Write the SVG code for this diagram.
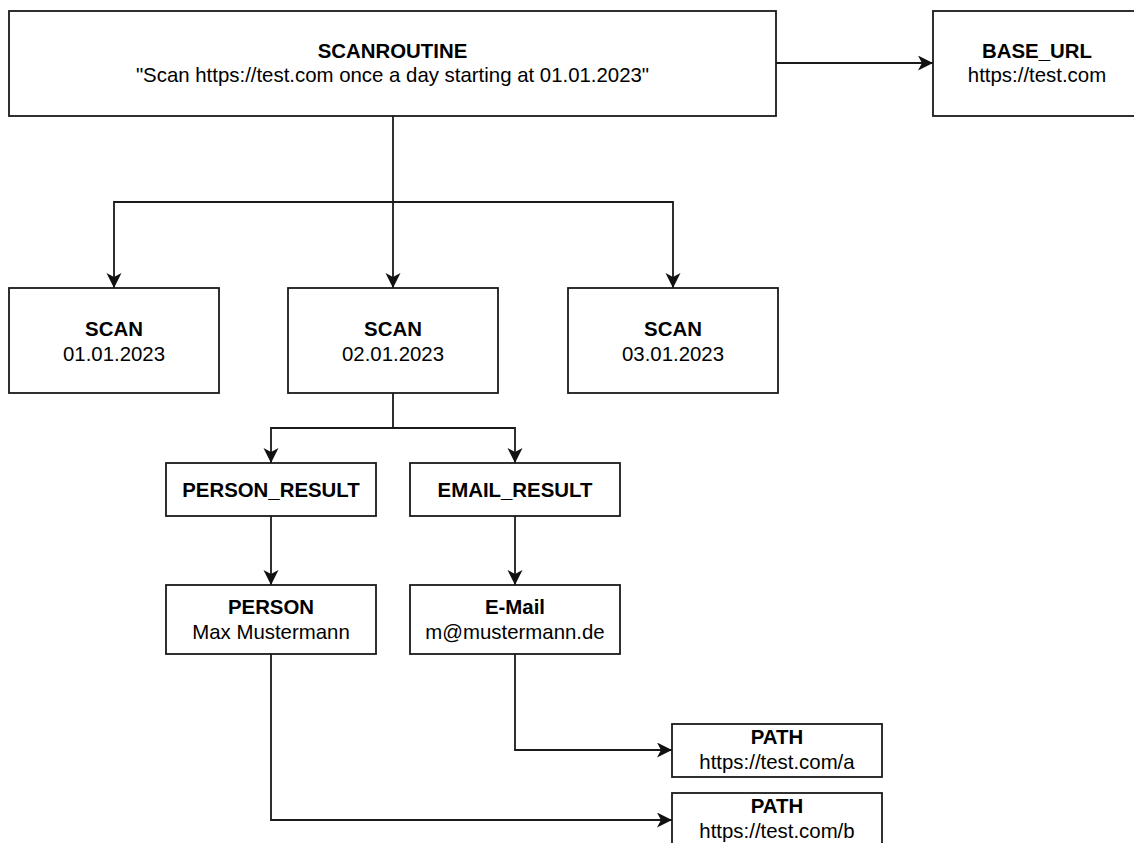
<svg xmlns="http://www.w3.org/2000/svg" width="1134" height="843" viewBox="0 0 1134 843">
<style>
.box{fill:#ffffff;stroke:#1a1a1a;stroke-width:1.8}
.t{font-family:"Liberation Sans",Arial,Helvetica,sans-serif;font-size:20.4px;fill:#000;text-anchor:middle}
.b{font-weight:bold}
.edge{fill:none;stroke:#1a1a1a;stroke-width:1.8}
</style>
<defs>
<marker id="arr" markerUnits="userSpaceOnUse" markerWidth="18" markerHeight="18" refX="15" refY="7.5" orient="auto">
<path d="M0,0 L15,7.5 L0,15 L4,7.5 Z" fill="#111111"/>
</marker>
</defs>
<rect width="1134" height="843" fill="#ffffff"/>
<g id="connectors">
<path class="edge" d="M776,63 L933,63" marker-end="url(#arr)"/>
<path class="edge" d="M393,116 L393,288" marker-end="url(#arr)"/>
<path class="edge" d="M393,202 L114,202 L114,288" marker-end="url(#arr)"/>
<path class="edge" d="M393,202 L673,202 L673,288" marker-end="url(#arr)"/>
<path class="edge" d="M393,393 L393,428 L271,428 L271,463" marker-end="url(#arr)"/>
<path class="edge" d="M393,428 L515,428 L515,463" marker-end="url(#arr)"/>
<path class="edge" d="M271,516 L271,585" marker-end="url(#arr)"/>
<path class="edge" d="M515,516 L515,585" marker-end="url(#arr)"/>
<path class="edge" d="M515,654 L515,750 L672,750" marker-end="url(#arr)"/>
<path class="edge" d="M271,654 L271,820 L672,820" marker-end="url(#arr)"/>
</g>
<g id="scanroutine">
<rect class="box" x="9" y="11" width="767" height="105"/>
<text class="t b" x="392.5" y="58">SCANROUTINE</text>
<text class="t" x="392.5" y="82">"Scan https://test.com once a day starting at 01.01.2023"</text>
</g>
<g id="base_url">
<rect class="box" x="933" y="11" width="208" height="105"/>
<text class="t b" x="1037" y="58">BASE_URL</text>
<text class="t" x="1037" y="82">https://test.com</text>
</g>
<g id="scan1">
<rect class="box" x="9" y="288" width="210" height="105"/>
<text class="t b" x="114" y="336">SCAN</text>
<text class="t" x="114" y="361">01.01.2023</text>
</g>
<g id="scan2">
<rect class="box" x="288" y="288" width="210" height="105"/>
<text class="t b" x="393" y="336">SCAN</text>
<text class="t" x="393" y="361">02.01.2023</text>
</g>
<g id="scan3">
<rect class="box" x="568" y="288" width="210" height="105"/>
<text class="t b" x="673" y="336">SCAN</text>
<text class="t" x="673" y="361">03.01.2023</text>
</g>
<g id="person_result">
<rect class="box" x="166" y="463" width="210" height="53"/>
<text class="t b" x="271" y="496.5">PERSON_RESULT</text>
</g>
<g id="email_result">
<rect class="box" x="410" y="463" width="210" height="53"/>
<text class="t b" x="515" y="496.5">EMAIL_RESULT</text>
</g>
<g id="person">
<rect class="box" x="166" y="585" width="210" height="69"/>
<text class="t b" x="271" y="614">PERSON</text>
<text class="t" x="271" y="639">Max Mustermann</text>
</g>
<g id="email">
<rect class="box" x="410" y="585" width="210" height="69"/>
<text class="t b" x="515" y="614">E-Mail</text>
<text class="t" x="515" y="639">m@mustermann.de</text>
</g>
<g id="path_a">
<rect class="box" x="672" y="724" width="210" height="53"/>
<text class="t b" x="777" y="744">PATH</text>
<text class="t" x="777" y="769">https://test.com/a</text>
</g>
<g id="path_b">
<rect class="box" x="672" y="793" width="210" height="53"/>
<text class="t b" x="777" y="813">PATH</text>
<text class="t" x="777" y="838">https://test.com/b</text>
</g>
</svg>
